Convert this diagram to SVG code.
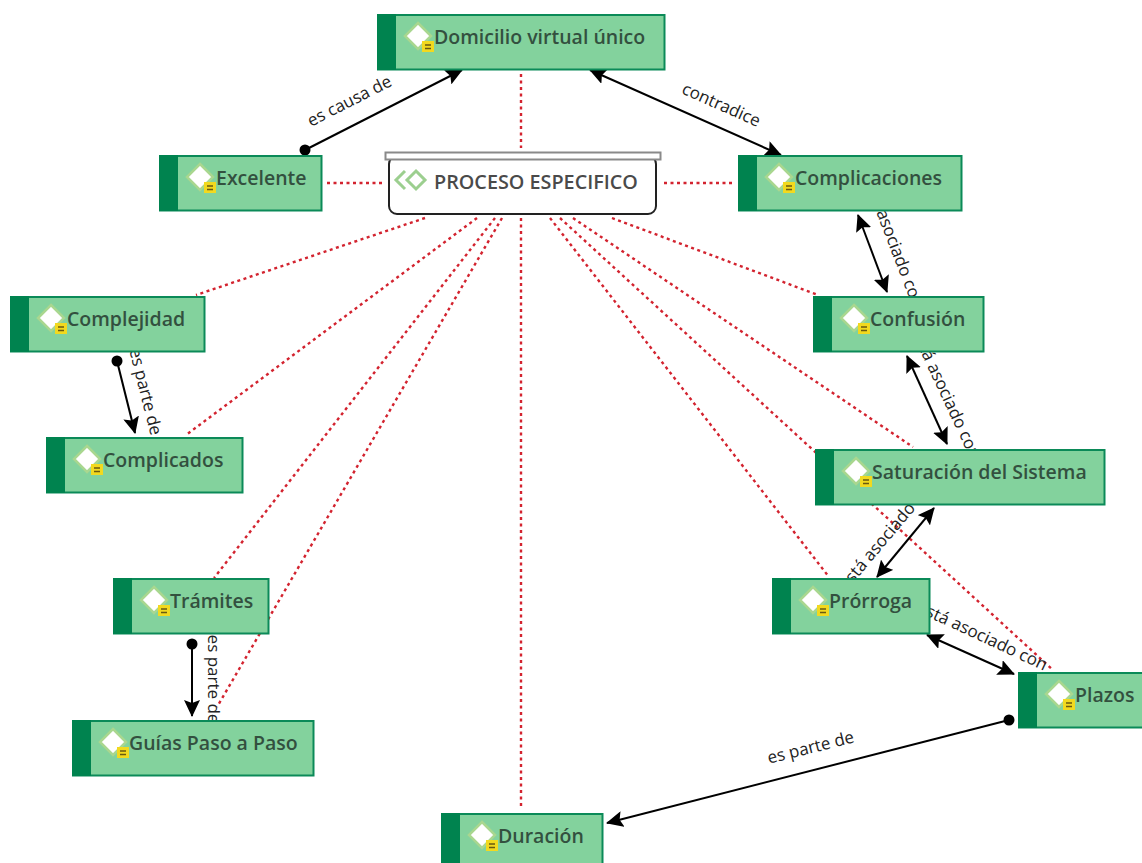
<svg xmlns="http://www.w3.org/2000/svg" width="1142" height="863" viewBox="0 0 1142 863">
<style>
.dot{stroke:#d3232f;stroke-width:2.400;stroke-dasharray:3 3.500;fill:none}
.rel{stroke:#000;stroke-width:2;fill:none}
.lbl{font:17px "Open Sans","Noto Sans",sans-serif;fill:#222;text-anchor:middle}
.bg{fill:#83d29d;stroke:#0b8a58;stroke-width:2}
.st{fill:#00834f}
.t{font:600 19.500px "Open Sans","Noto Sans",sans-serif;fill:#33503f}
</style>
<defs>
<marker id="ah" viewBox="0 0 17 16" refX="16" refY="8" markerWidth="17" markerHeight="16" markerUnits="userSpaceOnUse" orient="auto-start-reverse"><path d="M0 0L17 8L0 16L3 8Z" fill="#000"/></marker>
<marker id="bd" viewBox="0 0 12 12" refX="6" refY="6" markerWidth="12" markerHeight="12" markerUnits="userSpaceOnUse"><circle cx="6" cy="6" r="5.500" fill="#000"/></marker>
<g id="ic"><path d="M0 -13L13 0L0 13L-13 0Z" fill="#fff" stroke="#a9d78f" stroke-width="2.500"/><rect x="4" y="5" width="12" height="11" fill="#f2d91f"/><path d="M7 9h6M7 12.500h6" stroke="#6a5a10" stroke-width="1.500"/></g>
</defs>
<g id="connectors">
<path class="dot" d="M521 74V148M327 183H383M664 183H735M425 218L196 295M477 218L186 435M495 218L214 578M502 218L217 707M521 218V808M550 218L829 577M573 218L913 447M560 218L1053 670M612 218L818 295"/>
<path class="rel" d="M305 150L462 70" marker-start="url(#bd)" marker-end="url(#ah)"/>
<path class="rel" d="M590 70L781 155" marker-start="url(#ah)" marker-end="url(#ah)"/>
<path class="rel" d="M858 215L887 292" marker-start="url(#ah)" marker-end="url(#ah)"/>
<path class="rel" d="M907 356L947 444" marker-start="url(#ah)" marker-end="url(#ah)"/>
<path class="rel" d="M934 508L877 577" marker-start="url(#ah)" marker-end="url(#ah)"/>
<path class="rel" d="M927 635L1014 674" marker-start="url(#ah)" marker-end="url(#ah)"/>
<path class="rel" d="M1009 720L607 823" marker-start="url(#bd)" marker-end="url(#ah)"/>
<path class="rel" d="M117 361L135 433" marker-start="url(#bd)" marker-end="url(#ah)"/>
<path class="rel" d="M192 644V716" marker-start="url(#bd)" marker-end="url(#ah)"/>
<text class="lbl" transform="translate(352 106) rotate(-27)">es causa de</text>
<text class="lbl" transform="translate(719 110) rotate(24)">contradice</text>
<text class="lbl" transform="translate(888 243) rotate(69)">está asociado con</text>
<text class="lbl" transform="translate(941 396) rotate(65)">está asociado con</text>
<text class="lbl" transform="translate(892 537) rotate(-50)">está asociado con</text>
<text class="lbl" transform="translate(980 641) rotate(25)">está asociado con</text>
<text class="lbl" transform="translate(812 753) rotate(-14)">es parte de</text>
<text class="lbl" transform="translate(140 393) rotate(76)">es parte de</text>
<text class="lbl" transform="translate(208 679) rotate(90)">es parte de</text>
</g>
<g id="proceso"><rect x="389" y="156" width="267" height="58" rx="8" fill="#fff" stroke="#222" stroke-width="2"/><rect x="385.500" y="152.500" width="275" height="7" fill="#fff" stroke="#8a8a8a" stroke-width="2"/><path d="M405 171L396 180L405 189M416 171L425 180L416 189L407 180Z" fill="none" stroke="#9ccf8f" stroke-width="3"/><text x="434" y="189" style="font:600 19.800px 'Open Sans','Noto Sans',sans-serif;fill:#4a4a4a">PROCESO ESPECIFICO</text></g>
<g id="n1"><rect class="bg" x="378" y="15" width="286.500" height="54.500"/><rect class="st" x="377" y="14" width="19" height="56"/><use href="#ic" x="418" y="36"/><text class="t" x="434" y="44">Domicilio virtual único</text></g>
<g id="n2"><rect class="bg" x="160" y="156" width="161.500" height="54.500"/><rect class="st" x="159" y="155" width="19" height="56"/><use href="#ic" x="200" y="177"/><text class="t" x="216" y="185">Excelente</text></g>
<g id="n3"><rect class="bg" x="739" y="156" width="222.500" height="54.500"/><rect class="st" x="738" y="155" width="19" height="56"/><use href="#ic" x="779" y="177"/><text class="t" x="795" y="185">Complicaciones</text></g>
<g id="n4"><rect class="bg" x="11" y="297" width="193.500" height="54.500"/><rect class="st" x="10" y="296" width="19" height="56"/><use href="#ic" x="51" y="318"/><text class="t" x="67" y="326">Complejidad</text></g>
<g id="n5"><rect class="bg" x="814" y="297" width="169.500" height="54.500"/><rect class="st" x="813" y="296" width="19" height="56"/><use href="#ic" x="854" y="318"/><text class="t" x="870" y="326">Confusión</text></g>
<g id="n6"><rect class="bg" x="47" y="438" width="195.500" height="54.500"/><rect class="st" x="46" y="437" width="19" height="56"/><use href="#ic" x="87" y="459"/><text class="t" x="103" y="467">Complicados</text></g>
<g id="n7"><rect class="bg" x="816" y="450" width="288.500" height="54.500"/><rect class="st" x="815" y="449" width="19" height="56"/><use href="#ic" x="856" y="471"/><text class="t" x="872" y="479">Saturación del Sistema</text></g>
<g id="n8"><rect class="bg" x="114" y="579" width="154.500" height="54.500"/><rect class="st" x="113" y="578" width="19" height="56"/><use href="#ic" x="154" y="600"/><text class="t" x="170" y="608">Trámites</text></g>
<g id="n9"><rect class="bg" x="773" y="579" width="156.500" height="54.500"/><rect class="st" x="772" y="578" width="19" height="56"/><use href="#ic" x="813" y="600"/><text class="t" x="829" y="608">Prórroga</text></g>
<g id="n10"><rect class="bg" x="73" y="721" width="240.500" height="54.500"/><rect class="st" x="72" y="720" width="19" height="56"/><use href="#ic" x="113" y="742"/><text class="t" x="129" y="750">Guías Paso a Paso</text></g>
<g id="n11"><rect class="bg" x="1019" y="673" width="140" height="54.500"/><rect class="st" x="1018" y="672" width="19" height="56"/><use href="#ic" x="1059" y="694"/><text class="t" x="1075" y="702">Plazos</text></g>
<g id="n12"><rect class="bg" x="442" y="814" width="160.500" height="54"/><rect class="st" x="441" y="813" width="19" height="56"/><use href="#ic" x="482" y="835"/><text class="t" x="498" y="843">Duración</text></g>
</svg>
